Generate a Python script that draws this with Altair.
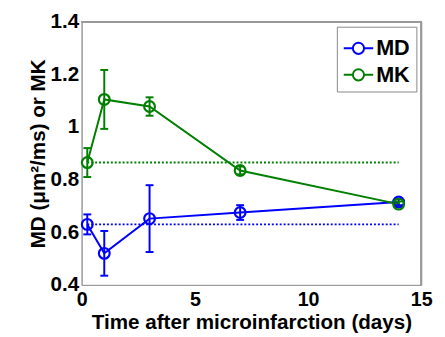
import altair as alt
import pandas as pd

days = [0.25, 1, 3, 7, 14]
md_mean = [0.63, 0.52, 0.652, 0.675, 0.715]
md_err = [0.038, 0.085, 0.127, 0.028, 0.012]
mk_mean = [0.865, 1.105, 1.078, 0.835, 0.707]
mk_err = [0.055, 0.112, 0.035, 0.015, 0.01]
baseline_series = ["MD", "MK"]
baseline_value = [0.63, 0.865]
baseline_start = [0.25, 0.25]
baseline_end = [14, 14]

rows = []
for s, means, errs in (("MD", md_mean, md_err), ("MK", mk_mean, mk_err)):
    for d, m, e in zip(days, means, errs):
        rows.append({"series": s, "day": d, "mean": m, "lo": m - e, "hi": m + e})
df = pd.DataFrame(rows)
base_df = pd.DataFrame({"series": baseline_series, "value": baseline_value,
                        "x0": baseline_start, "x1": baseline_end})

FONT = "Liberation Sans"
FRAME = "#999999"
cscale = alt.Scale(domain=["MD", "MK"], range=["#0000ff", "#007f00"])
xs = alt.Scale(domain=[0, 15], nice=False, zero=False)
ys = alt.Scale(domain=[0.4, 1.4], nice=False, zero=False)

xax = alt.X("day:Q", scale=xs, axis=alt.Axis(values=[0, 5, 10, 15], title="Time after microinfarction (days)",
            labelFontSize=20, labelFontWeight="bold", titleFontSize=21, titleFontWeight="bold",
            ticks=False, labelPadding=5, titlePadding=2, grid=False, domain=True, domainColor=FRAME,
            labelFlush=False))
yax = alt.Y("mean:Q", scale=ys, axis=alt.Axis(values=[0.4, 0.6, 0.8, 1.0, 1.2, 1.4], format="~g",
            title="MD (μm²/ms) or MK", labelFontSize=21, labelFontWeight="bold", titleFontSize=21,
            titleFontWeight="bold", ticks=False, labelPadding=3, titlePadding=2, grid=False,
            domain=True, domainColor=FRAME))

legend = alt.Legend(
    title=None, orient="none", legendX=260, legendY=5,
    symbolType="M-1,0H-0.38M0.38,0H1M-0.38,0A0.38,0.38,0,1,1,0.38,0A0.38,0.38,0,1,1,-0.38,0",
    symbolSize=900, symbolStrokeWidth=2, symbolFillColor="transparent",
    labelFontSize=22, labelFontWeight="bold", labelFont=FONT, rowPadding=-6,
    strokeColor="#888888", fillColor="white", padding=6, labelOffset=2)


def col():
    return alt.Color("series:N", scale=cscale, legend=legend)


def X(field):
    return alt.X(field, type="quantitative", scale=xs)


def Y(field):
    return alt.Y(field, type="quantitative", scale=ys)


base = alt.Chart(df)

frame_top = base.mark_rule(stroke=FRAME, strokeWidth=1).encode(
    x=alt.value(0), x2=alt.value(346), y=alt.value(0))
frame_right = base.mark_rule(stroke=FRAME, strokeWidth=1).encode(
    x=alt.value(346), y=alt.value(0), y2=alt.value(268))
lines = base.mark_line(strokeWidth=2).encode(x=xax, y=yax, color=col())
points = base.mark_point(filled=False, size=120, strokeWidth=2.2, opacity=1).encode(
    x=X("day"), y=Y("mean"), color=col())
bars = base.mark_rule(strokeWidth=2).encode(x=X("day"), y=Y("lo"), y2="hi:Q", color=col())
caps_lo = base.mark_point(shape="stroke", filled=False, size=64, strokeWidth=2, opacity=1).encode(
    x=X("day"), y=Y("lo"), color=col())
caps_hi = base.mark_point(shape="stroke", filled=False, size=64, strokeWidth=2, opacity=1).encode(
    x=X("day"), y=Y("hi"), color=col())
baselines = alt.Chart(base_df).mark_rule(strokeWidth=2, strokeDash=[2, 2]).encode(
    x=X("x0"), x2="x1:Q", y=Y("value"), color=col())

chart = alt.layer(baselines, lines, bars, caps_lo, caps_hi, points, frame_top, frame_right).properties(
    width=346, height=268,
    autosize=alt.AutoSizeParams(type="none"),
    padding={"left": 75, "top": 11, "right": 16, "bottom": 50},
).configure(font=FONT).configure_view(stroke=FRAME, strokeWidth=1).configure_axis(
    labelColor="black", titleColor="black")

chart.save("out.html", embed_options={"renderer": "svg", "actions": False})
